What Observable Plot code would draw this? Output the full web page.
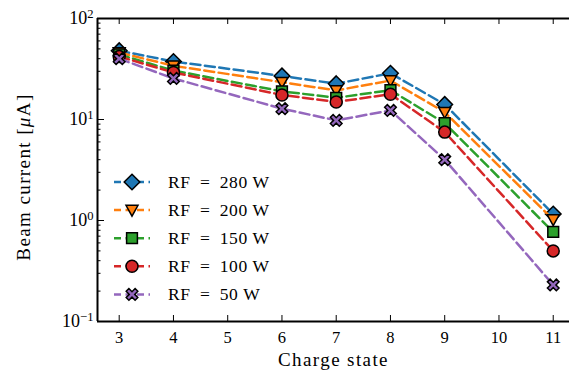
<!DOCTYPE html>
<html>
<head>
<meta charset="utf-8">
<script src="https://cdn.jsdelivr.net/npm/d3@7"></script>
<script src="https://cdn.jsdelivr.net/npm/@observablehq/plot@0.6"></script>
<style>
  html, body { margin: 0; padding: 0; background: #fff; overflow: hidden; }
  #chart { position: relative; width: 569px; height: 375px; font-family: "Liberation Serif", serif; }
  #chart svg, #chart text, #chart tspan { font-family: "Liberation Serif", serif !important; }
  #legend { position: absolute; left: 0; top: 0; }
</style>
</head>
<body>
<div id="chart"></div>
<script>
// ---- data ----
const chargeStates = [3, 4, 6, 7, 8, 9, 11];
const rf280 = [48, 37.5, 27, 22.6, 28.7, 14.1, 1.16];
const rf200 = [46, 34, 23.4, 19.4, 24.3, 11.8, 1.02];
const rf150 = [44, 30.5, 19.0, 16.4, 19.5, 9.2, 0.77];
const rf100 = [42, 29.2, 17.5, 14.9, 17.8, 7.5, 0.50];
const rf50  = [40, 25.5, 12.8, 9.8, 12.3, 4.0, 0.23];
const seriesNames = ["RF\u2002=\u2002280 W", "RF\u2002=\u2002200 W", "RF\u2002=\u2002150 W", "RF\u2002=\u2002100 W", "RF\u2002=\u200250 W"];
const seriesValues = [rf280, rf200, rf150, rf100, rf50];
const seriesColors = ["#1f77b4", "#ff7f0e", "#2ca02c", "#d62728", "#9467bd"];
const xTickValues = [3, 4, 5, 6, 7, 8, 9, 10, 11];
const yMajorTicks = [0.1, 1, 10, 100];
const yMinorTicks = [];
for (const dec of [0.1, 1, 10]) for (let k = 2; k <= 9; k++) yMinorTicks.push(dec * k);
const xLabel = "Charge state";
const yLabel = "Beam current [μA]";

// ---- symbols ----
const rad = size => Math.sqrt(size / Math.PI);
const symDiamond = { draw(c, s) { const r = rad(s) * 1.3; c.moveTo(0, -r); c.lineTo(r, 0); c.lineTo(0, r); c.lineTo(-r, 0); c.closePath(); } };
const symTriDown = { draw(c, s) { const r = rad(s); c.moveTo(-r, -0.8 * r); c.lineTo(r, -0.8 * r); c.lineTo(0, r); c.closePath(); } };
const symSquare = { draw(c, s) { const h = rad(s) * 0.9; c.rect(-h, -h, 2 * h, 2 * h); } };
const symCircle = { draw(c, s) { const r = rad(s); c.moveTo(r, 0); c.arc(0, 0, r, 0, 2 * Math.PI); } };
const symX = { draw(c, s) {
  const r = rad(s), w = 0.32 * r, L = 1.05 * r;
  const pts = [[-w, -L], [w, -L], [w, -w], [L, -w], [L, w], [w, w], [w, L], [-w, L], [-w, w], [-L, w], [-L, -w], [-w, -w]];
  const a = Math.PI / 4, ca = Math.cos(a), sa = Math.sin(a);
  pts.forEach(([x, y], i) => { const X = x * ca - y * sa, Y = x * sa + y * ca; i ? c.lineTo(X, Y) : c.moveTo(X, Y); });
  c.closePath();
} };
const seriesSymbols = [symDiamond, symTriDown, symSquare, symCircle, symX];

// ---- layout ----
const W = 569, H = 375, mL = 97, mR = 0, mT = 18, mB = 54;
const innerW = W - mL - mR, innerH = H - mT - mB;
const dash = "10,4.5";
const FONT = "Liberation Serif";

const marks = [];
seriesValues.forEach((vals, si) => {
  const rows = chargeStates.map((c, i) => ({ charge: c, value: vals[i] }));
  marks.push(Plot.line(rows, { x: "charge", y: "value", stroke: seriesColors[si], strokeWidth: 2.5, strokeDasharray: dash }));
  marks.push(Plot.dot(rows, { x: "charge", y: "value", symbol: seriesSymbols[si], r: 6, fill: seriesColors[si], stroke: "black", strokeWidth: 1.5 }));
});

const plot = Plot.plot({
  width: W, height: H,
  marginLeft: mL, marginRight: mR, marginTop: mT, marginBottom: mB,
  style: { fontFamily: FONT, fontSize: "17px", color: "black", background: "white", overflow: "visible" },
  x: { domain: [2.6, 11.3] },
  y: { type: "log", domain: [0.1, 100] },
  marks: [
    // inward ticks
    Plot.tickY(yMajorTicks, { y: d => d, insetRight: innerW - 7, stroke: "black", strokeWidth: 1 }),
    Plot.tickY(yMinorTicks, { y: d => d, insetRight: innerW - 3.5, stroke: "black", strokeWidth: 1 }),
    Plot.tickX(xTickValues, { x: d => d, insetTop: innerH - 6, stroke: "black", strokeWidth: 1 }),
    Plot.tickX(xTickValues, { x: d => d, insetBottom: innerH - 6, stroke: "black", strokeWidth: 1 }),
    ...marks,
    // frame (left, top, bottom)
    Plot.ruleX([2.6], { stroke: "black", strokeWidth: 2 }),
    Plot.ruleY([0.1, 100], { stroke: "black", strokeWidth: 2 }),
    Plot.axisX({ ticks: xTickValues, tickSize: 0, tickPadding: 10, tickFormat: d => String(d), label: null, fontSize: 16.5 }),
    Plot.axisY({ ticks: yMajorTicks, tickSize: 0, tickPadding: 4, tickFormat: d => "10^" + Math.round(Math.log10(d)), label: null, fontSize: 18 }),
    Plot.text([xLabel], { text: d => d, frameAnchor: "bottom", dy: 44, fontSize: 19 }),
    Plot.text([yLabel], { text: d => d, frameAnchor: "left", textAnchor: "middle", rotate: -90, dx: -74, dy: 7, fontSize: 19 })
  ]
});
plot.setAttribute("font-family", FONT);

// superscripts on y tick labels
d3.select(plot).selectAll("g[aria-label='y-axis tick label'] text").each(function () {
  const t = this.textContent;
  if (!t.includes("^")) return;
  const [base, exp] = t.split("^");
  const sel = d3.select(this);
  sel.text(null);
  sel.append("tspan").text(base);
  sel.append("tspan").attr("dy", "-0.5em").attr("font-size", "0.7em").text(exp.replace("-", "−"));
});
// letter spacing for axis titles, italic mu
d3.select(plot).selectAll("text").filter(function () { const t = this.textContent; return t === xLabel || t === yLabel; })
  .style("letter-spacing", "1.4px")
  .each(function () {
    if (this.textContent !== yLabel) return;
    const sel = d3.select(this);
    const [pre, post] = yLabel.split("μ");
    sel.text(null);
    sel.append("tspan").text(pre);
    sel.append("tspan").attr("font-style", "italic").text("μ");
    sel.append("tspan").text(post);
  });

const chart = document.getElementById("chart");
chart.appendChild(plot);

// ---- legend ----
const lg = d3.select(chart).append("svg").attr("id", "legend").attr("width", W).attr("height", H);
const rowY0 = 182, rowStep = 28.1;
seriesNames.forEach((name, i) => {
  const y = rowY0 + i * rowStep;
  const g = lg.append("g");
  g.append("line").attr("x1", 114).attr("x2", 150).attr("y1", y).attr("y2", y)
    .attr("stroke", seriesColors[i]).attr("stroke-width", 2.5).attr("stroke-dasharray", "7,4.5");
  const p = d3.path();
  seriesSymbols[i].draw(p, Math.PI * 36);
  g.append("path").attr("d", p.toString()).attr("transform", `translate(132,${y})`)
    .attr("fill", seriesColors[i]).attr("stroke", "black").attr("stroke-width", 1.5);
  g.append("text").attr("x", 168).attr("y", y).attr("dominant-baseline", "central")
    .attr("font-family", FONT).attr("font-size", 17.5).attr("fill", "black")
    .style("letter-spacing", "0.6px")
    .text(name);
});
</script>
</body>
</html>
